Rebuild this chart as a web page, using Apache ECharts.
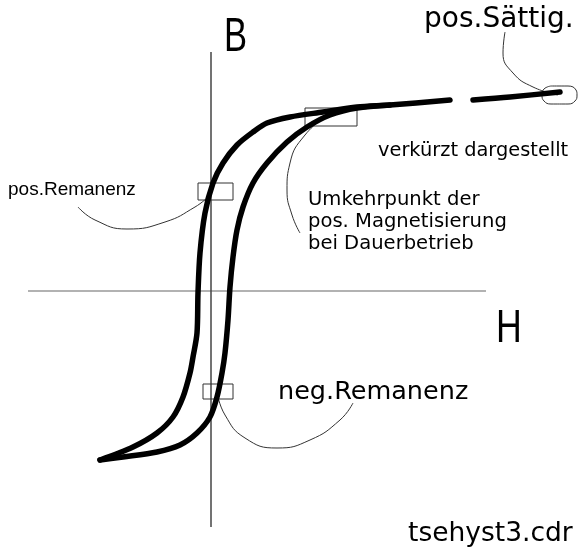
<!DOCTYPE html>
<html>
<head>
<meta charset="utf-8">
<script src="https://cdn.jsdelivr.net/npm/echarts@6/dist/echarts.min.js"></script>
<style>html,body{margin:0;padding:0;background:#fff}#c{width:579px;height:555px}</style>
</head>
<body>
<div id="c"></div>
<script>
// Hysteresis loop, H (field) / B (flux density) in drawing units
var descendingBranch = [[-111,-169],[-78,-156],[-54,-142],[-38,-126],[-28,-106],[-21,-82],[-18,-66],[-14,-42],[-13,-2],[-11,38],[-6,78],[2,108],[12,128],[26,146],[42,159],[56,168],[79,174],[112,179],[146,184],[179,186],[239,191],null,[262,191],[299,194],[349,199]];
var ascendingBranch = [[-111,-169],[-88,-166],[-54,-161],[-31,-154],[-14,-142],[-1,-126],[6,-106],[11,-82],[14,-62],[17,-29],[19,4],[22,34],[26,61],[32,84],[42,108],[56,128],[76,149],[96,164],[119,176],[146,183],[179,186]];
var hAxisLine = [[-183,0],[275,0]];
var bAxisLine = [[0,239],[0,-236]];
var boxReversal = [[94,183],[146,183],[146,165],[94,165],[94,183]];
var boxPosRem = [[-13,108],[22,108],[22,91],[-13,91],[-13,108]];
var boxNegRem = [[-8,-93],[22,-93],[22,-108],[-8,-108],[-8,-93]];
var capsuleSat = [[340,205],[357,205],[365,201],[366,196],[364,190],[357,187],[340,187],[333,190],[331,196],[333,202],[340,205]];
var leaderPosRem = [[-133,84],[-116,71],[-84,62],[-46,69],[-16,84],[-3,94]];
var leaderNegRem = [[6,-101],[14,-124],[34,-147],[66,-157],[99,-149],[129,-129],[142,-112]];
var leaderReversal = [[119,178],[94,156],[79,128],[76,101],[81,76],[89,58]];
var leaderSat = [[294,259],[292,238],[302,218],[322,204],[347,196]];
var labels = {
  B: 'B', H: 'H', sat: 'pos.Sättig.', short: 'verkürzt dargestellt',
  posRem: 'pos.Remanenz', negRem: 'neg.Remanenz',
  rev: ['Umkehrpunkt der', 'pos. Magnetisierung', 'bei Dauerbetrieb'],
  file: 'tsehyst3.cdr'
};

var chart = echarts.init(document.getElementById('c'), null, {renderer:'canvas'});
function thin(data, color, w, smooth) {
  return {type:'line', data:data, symbol:'none', smooth:smooth||0, silent:true,
    lineStyle:{color:color||'#000', width:w||1}, z:2, animation:false};
}
function thick(data) {
  return {type:'line', data:data, symbol:'none', smooth:0.3, silent:true, connectNulls:false,
    lineStyle:{color:'#000', width:5.5, cap:'round', join:'round'}, z:5, animation:false};
}
var font = 'DejaVu Sans';
function txt(s, x, y, size, fam, sx) {
  return {type:'text', left:x, top:y, scaleX: sx||1, originX:0,
    style:{text:s, fill:'#000', font: size+'px "'+(fam||font)+'"'}};
}
chart.setOption({
  animation:false,
  grid:{left:0, right:0, top:0, bottom:0},
  xAxis:{type:'value', min:-211, max:368, show:false},
  yAxis:{type:'value', min:-264, max:291, show:false},
  series:[
    thin(hAxisLine, '#999', 1.5),
    thin(bAxisLine, '#444', 1.5),
    thin(boxReversal, '#333', 1),
    thin(boxPosRem, '#333', 1),
    thin(boxNegRem, '#333', 1),
    thin(capsuleSat, '#333', 1, 0.5),
    thin(leaderPosRem, '#333', 1, 0.5),
    thin(leaderNegRem, '#333', 1, 0.5),
    thin(leaderReversal, '#333', 1, 0.5),
    thin(leaderSat, '#333', 1, 0.5),
    thick(descendingBranch),
    thick(ascendingBranch)
  ],
  graphic:[
    txt(labels.B, 224, 14, 48, 'Liberation Sans', 0.72),
    txt(labels.H, 496, 306, 47, 'Liberation Sans', 0.76),
    txt(labels.sat, 424, 6, 28),
    txt(labels.short, 378, 142, 19, null, 1.02),
    txt(labels.posRem, 8, 180, 19, 'Liberation Sans'),
    txt(labels.rev[0], 308, 191, 19, null, 1.03),
    txt(labels.rev[1], 308, 213, 19, null, 1.03),
    txt(labels.rev[2], 308, 235, 19, null, 1.03),
    txt(labels.negRem, 278, 379, 25.5),
    txt(labels.file, 408, 521, 26.5)
  ]
});
</script>
</body>
</html>
